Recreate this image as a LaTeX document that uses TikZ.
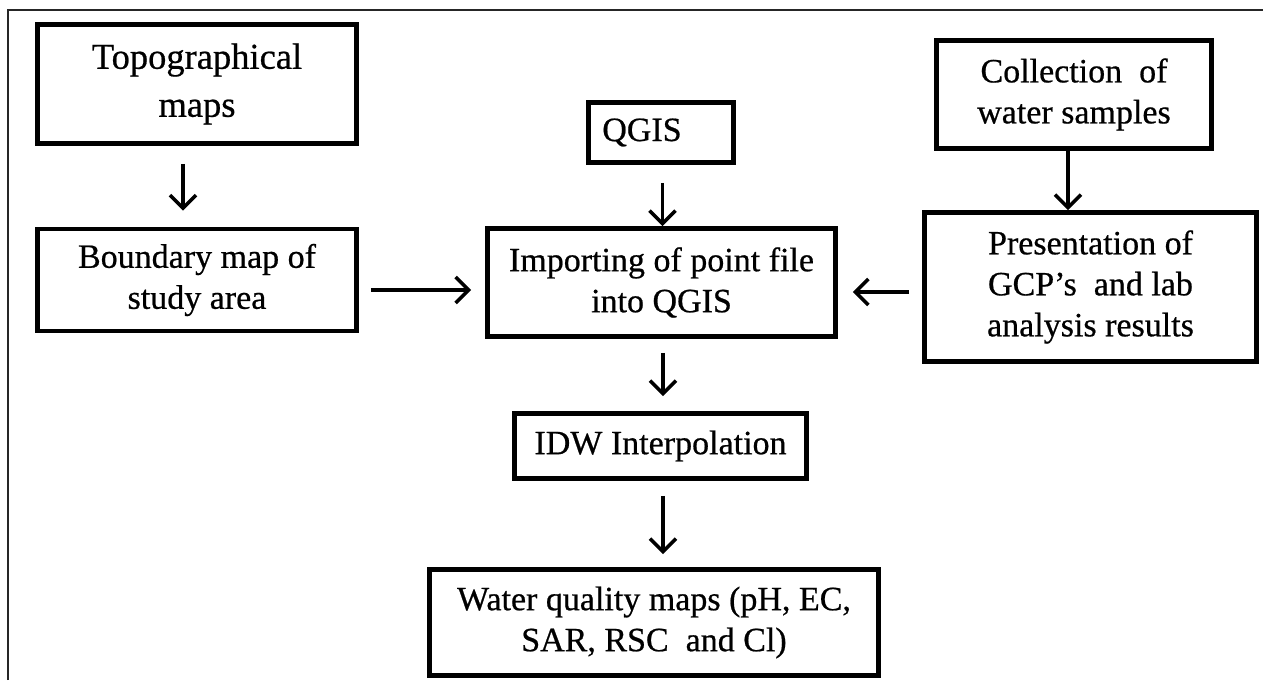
\documentclass[tikz,border=0pt]{standalone}
\usepackage{fontspec}
\setmainfont[FakeBold=0.6]{Liberation Serif}
\usetikzlibrary{arrows.meta}
\begin{document}
\begin{tikzpicture}[x=1pt,y=-1pt,
  box/.style={draw=black, line width=4.6pt, rectangle, inner sep=0pt, align=center,
              font=\fontsize{34}{41}\selectfont},
  arr/.style={line width=3.6pt, -{Straight Barb[length=13pt,width=26pt,line width=3.6pt]}},
  frame/.style={line width=2.4pt, draw=black!85}]
\useasboundingbox (0,0) rectangle (1263,680);
\draw[frame] (8,680) -- (8,10) -- (1263,10);

\node[box, minimum width=319pt, minimum height=119pt, font=\fontsize{36.5}{48}\selectfont]
  (topo) at (197,84) {Topographical\\maps};
\node[box, minimum width=319pt, minimum height=102pt] (bound) at (197,280)
  {Boundary map of\\study area};
\node[box, minimum width=145pt, minimum height=60pt] (qgis) at (661,132.5)
  {QGIS\hspace*{38pt}};
\node[box, minimum width=348pt, minimum height=108pt] (imp) at (661.5,282.5)
  {Importing of point file\\into QGIS};
\node[box, minimum width=292pt, minimum height=65pt] (idw) at (660.5,446)
  {IDW Interpolation};
\node[box, minimum width=449pt, minimum height=106pt] (water) at (654,622.5)
  {Water quality maps (pH, EC,\\SAR, RSC\ \ and Cl)};
\node[box, minimum width=275pt, minimum height=108pt] (coll) at (1074,94.5)
  {Collection\ \ of\\water samples};
\node[box, minimum width=332pt, minimum height=149pt] (pres) at (1090.5,287)
  {Presentation of\\GCP’s\ \ and lab\\analysis results};

\draw[arr, shorten <=18pt, shorten >=16pt] ([xshift=-14pt]topo.south) -- ([xshift=-14pt]bound.north);
\draw[arr, shorten <=18pt] ([xshift=1.5pt]qgis.south) -- ([xshift=1.5pt]qgis.south |- imp.north);
\draw[arr, shorten <=12pt, shorten >=14pt] ([yshift=-10pt]bound.east) -- ([yshift=-10pt]bound.east -| imp.west);
\draw[arr, shorten <=13pt, shorten >=15pt] ([yshift=-5pt]pres.west) -- ([yshift=-5pt]pres.west -| imp.east);
\draw[arr, shorten <=14pt, shorten >=15pt] ([xshift=1.5pt]imp.south) -- ([xshift=1.5pt]imp.south |- idw.north);
\draw[arr, shorten <=15pt, shorten >=13pt] ([xshift=2.5pt]idw.south) -- ([xshift=2.5pt]idw.south |- water.north);
\draw[arr] ([xshift=-6pt]coll.south) -- ([xshift=-6pt]coll.south |- pres.north);
\end{tikzpicture}
\end{document}
